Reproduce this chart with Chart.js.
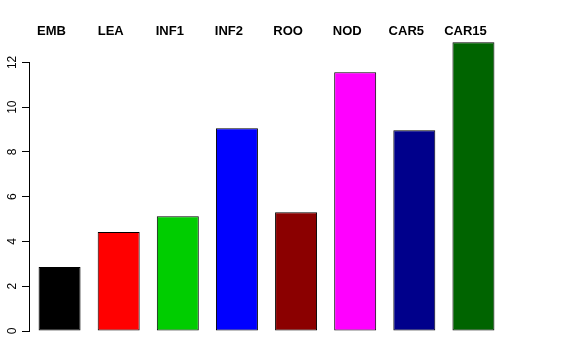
<!DOCTYPE html>
<html>
<head>
<meta charset="utf-8">
<script src="https://cdn.jsdelivr.net/npm/chart.js@4"></script>
<style>
  html, body { margin: 0; padding: 0; background: #fff; }
  #wrap { width: 576px; height: 360px; }
</style>
</head>
<body>
<div id="wrap"><canvas id="bar-chart"></canvas></div>
<script>
const tissues = ["EMB", "LEA", "INF1", "INF2", "ROO", "NOD", "CAR5", "CAR15"];
const values = [2.86, 4.42, 5.13, 9.06, 5.31, 11.56, 8.97, 12.9];
const barColors = ["#000000", "#FF0000", "#00CD00", "#0000FF", "#8B0000", "#FF00FF", "#00008B", "#006400"];
const yTicks = [0, 2, 4, 6, 8, 10, 12];

// R-style left axis: line from first to last tick, labels turned 90 degrees
const rAxis = {
    id: "rAxis",
    afterDraw(chart) {
        const c = chart.ctx;
        const y = chart.scales.y;
        const x0 = chart.chartArea.left - 0.5;
        c.save();
        c.strokeStyle = "#000";
        c.lineWidth = 1;
        c.beginPath();
        c.moveTo(x0, y.getPixelForValue(yTicks[0]));
        c.lineTo(x0, y.getPixelForValue(yTicks[yTicks.length - 1]));
        c.stroke();
        c.fillStyle = "#000";
        c.font = "12px 'Liberation Sans', Arial, sans-serif";
        c.textAlign = "center";
        c.textBaseline = "middle";
        yTicks.forEach(t => {
            c.save();
            c.translate(x0 - 17, y.getPixelForValue(t));
            c.rotate(-Math.PI / 2);
            c.fillText(String(t), 0, 0);
            c.restore();
        });
        c.restore();
    }
};

const ctx = document.getElementById("bar-chart").getContext("2d");
new Chart(ctx, {
    type: "bar",
    data: {
        labels: tissues,
        datasets: [{
            data: values,
            backgroundColor: barColors,
            borderColor: "#000",
            borderWidth: 1,
            borderSkipped: false,
            barPercentage: 0.71,
            categoryPercentage: 1.0
        }]
    },
    options: {
        responsive: true,
        maintainAspectRatio: false,
        animation: false,
        layout: { padding: { left: 0, right: 73, top: 0, bottom: 29 } },
        plugins: {
            legend: { display: false },
            tooltip: { enabled: false }
        },
        scales: {
            x: {
                position: "top",
                grid: { display: false },
                border: { display: false },
                ticks: {
                    color: "#000",
                    font: { family: "'Liberation Sans', Arial, sans-serif", size: 13, weight: "bold" },
                    labelOffset: -8,
                    padding: -7,
                    maxRotation: 0,
                    autoSkip: false
                },
                afterFit: scale => { scale.height = 40; }
            },
            y: {
                min: 0,
                max: 13,
                grid: { display: true, drawOnChartArea: false, drawTicks: true, tickLength: 8, color: "#000" },
                border: { display: false },
                ticks: { stepSize: 2, includeBounds: false, display: false },
                afterFit: scale => { scale.width = 30; }
            }
        }
    },
    plugins: [rAxis]
});
</script>
</body>
</html>
